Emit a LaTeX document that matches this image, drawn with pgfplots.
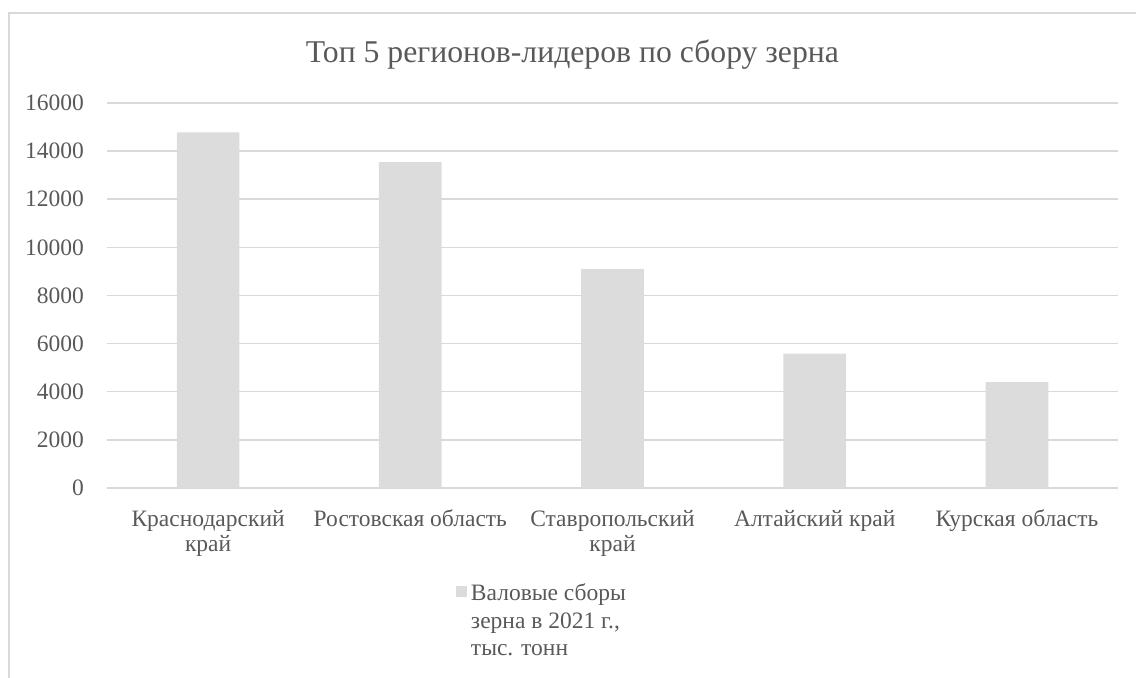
\documentclass[border=0pt]{standalone}
\usepackage{pgfplots}
\pgfplotsset{compat=1.18}
\usepackage{fontspec}
\setmainfont{Liberation Serif}
\definecolor{txt}{HTML}{595959}
\definecolor{gridc}{HTML}{D9D9D9}
\definecolor{barc}{HTML}{DCDCDC}
\begin{document}
\begin{tikzpicture}[x=1bp,y=1bp]
\useasboundingbox (0,0) rectangle (1136,678);
\draw[gridc, line width=1.5bp] (9,0) -- (9,665) -- (1136,665);
\begin{axis}[
  at={(107bp,190bp)}, anchor=south west,
  scale only axis, width=1011bp, height=385bp,
  xmin=-0.5, xmax=4.5, ymin=0, ymax=16000,
  ytick={0,2000,...,16000},
  xtick={0,1,2,3,4},
  xticklabels={\strut Краснодарский\\край, \strut Ростовская область, \strut Ставропольский\\край, \strut Алтайский край, \strut Курская область},
  axis line style={draw=none},
  major tick length=0pt,
  ymajorgrids, grid style={gridc, line width=1.5bp},
  /pgf/number format/assume math mode=true,
  /pgf/number format/1000 sep={},
  scaled y ticks=false,
  tick label style={text=txt, font=\fontsize{23.5bp}{25bp}\selectfont},
  yticklabel style={anchor=east, inner sep=0pt, xshift=-23bp},
  xticklabel style={anchor=north, align=center, inner sep=0pt, yshift=-20.5bp},
  title={Топ 5 регионов-лидеров по сбору зерна},
  title style={at={(0.4604,1.09)}, anchor=base, text=txt, font=\fontsize{31.7bp}{38bp}\selectfont, inner sep=0pt},
  legend style={at={(0.345,-0.244)}, anchor=north west, draw=none, fill=none, inner sep=0pt,
    font=\fontsize{23.5bp}{27.5bp}\selectfont, text=txt, cells={align=left, anchor=west},
    /tikz/every odd column/.append style={column sep=2bp}},
  legend image code/.code={\fill[barc] (0bp,24bp) rectangle (11bp,35bp);},
]
\addplot[ybar, bar width=0.31, fill=barc, draw=none] coordinates {
  (0,14780) (1,13540) (2,9100) (3,5580) (4,4400)
};
\addlegendentry{Валовые сборы\\зерна в 2021 г.,\\тыс. тонн}
\end{axis}
\end{tikzpicture}
\end{document}
